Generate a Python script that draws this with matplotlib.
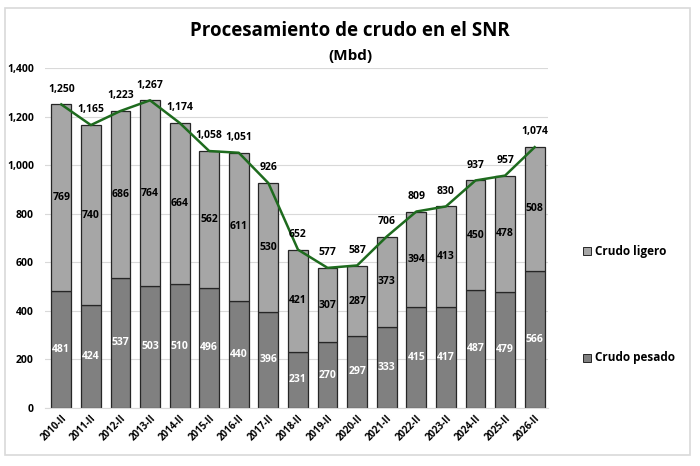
import matplotlib
matplotlib.use("Agg")
import matplotlib.pyplot as plt
from matplotlib.patches import Rectangle
import numpy as np

categories = ["2010-II", "2011-II", "2012-II", "2013-II", "2014-II", "2015-II", "2016-II",
              "2017-II", "2018-II", "2019-II", "2020-II", "2021-II", "2022-II", "2023-II",
              "2024-II", "2025-II", "2026-II"]
pesado = [481, 424, 537, 503, 510, 496, 440, 396, 231, 270, 297, 333, 415, 417, 487, 479, 566]
ligero = [769, 740, 686, 764, 664, 562, 611, 530, 421, 307, 287, 373, 394, 413, 450, 478, 508]
totales = [1250, 1165, 1223, 1267, 1174, 1058, 1051, 926, 652, 577, 587, 706, 809, 830, 937, 957, 1074]

plt.rcParams['font.family'] = ['Open Sans', 'DejaVu Sans']

fig = plt.figure(figsize=(7, 4.66), dpi=100)
fig.patches.append(Rectangle((5/700, 1-455/466), 685/700, 447/466, transform=fig.transFigure,
                             fill=False, edgecolor='#D9D9D9', linewidth=1.2))

ax = fig.add_axes([45/700, 1-408/466, 503/700, 340/466])
x = np.arange(len(categories))
w = 0.67
c_pes = '#808080'
c_lig = '#A6A6A6'
ax.bar(x, pesado, w, color=c_pes, edgecolor='#262626', linewidth=0.9, label='Crudo pesado', zorder=2)
ax.bar(x, ligero, w, bottom=pesado, color=c_lig, edgecolor='#262626', linewidth=0.9, label='Crudo ligero', zorder=2)
ax.plot(x, totales, color='#1E6B1E', linewidth=1.8, zorder=3)

for i in range(len(categories)):
    ax.text(x[i], pesado[i]/2, f"{pesado[i]:,}", ha='center', va='center', color='white',
            fontsize=7.5, fontweight='bold', zorder=4)
    ax.text(x[i], pesado[i] + ligero[i]/2, f"{ligero[i]:,}", ha='center', va='center', color='black',
            fontsize=7.5, fontweight='bold', zorder=4)
    ax.annotate(f"{totales[i]:,}", (x[i], totales[i]), xytext=(0, 7), textcoords='offset points',
                ha='center', va='bottom', fontsize=7.5, fontweight='bold', zorder=4)

ax.set_xlim(-0.55, 16.45)
ax.set_ylim(0, 1400)
ax.set_yticks(range(0, 1401, 200))
ax.set_yticklabels([f"{v:,}" for v in range(0, 1401, 200)], fontsize=7.5, fontweight='bold')
ax.set_xticks(x)
ax.set_xticklabels(categories, rotation=45, ha='right', rotation_mode='anchor', fontsize=7, fontweight='bold')
ax.tick_params(axis='both', length=0)
ax.tick_params(axis='y', pad=8)
ax.grid(axis='y', color='#D9D9D9', linewidth=0.8, zorder=0)
for s in ['top', 'right', 'left']:
    ax.spines[s].set_visible(False)
ax.spines['bottom'].set_color('#D9D9D9')

fig.text(350/700, 1-31/466, "Procesamiento de crudo en el SNR", ha='center', va='center',
         fontsize=13.5, fontweight='bold')
fig.text(350/700, 1-56/466, "(Mbd)", ha='center', va='center', fontsize=11, fontweight='bold')

# legend entries
for lbl, col, yy in [("Crudo ligero", c_lig, 251), ("Crudo pesado", c_pes, 358)]:
    fig.patches.append(Rectangle((583/700, 1-(yy+4)/466), 8/700, 8/466, transform=fig.transFigure,
                                 facecolor=col, edgecolor='#262626', linewidth=0.7))
    fig.text(595/700, 1-yy/466, lbl, ha='left', va='center', fontsize=8.5, fontweight='bold')

fig.savefig("out.png", dpi=100)
